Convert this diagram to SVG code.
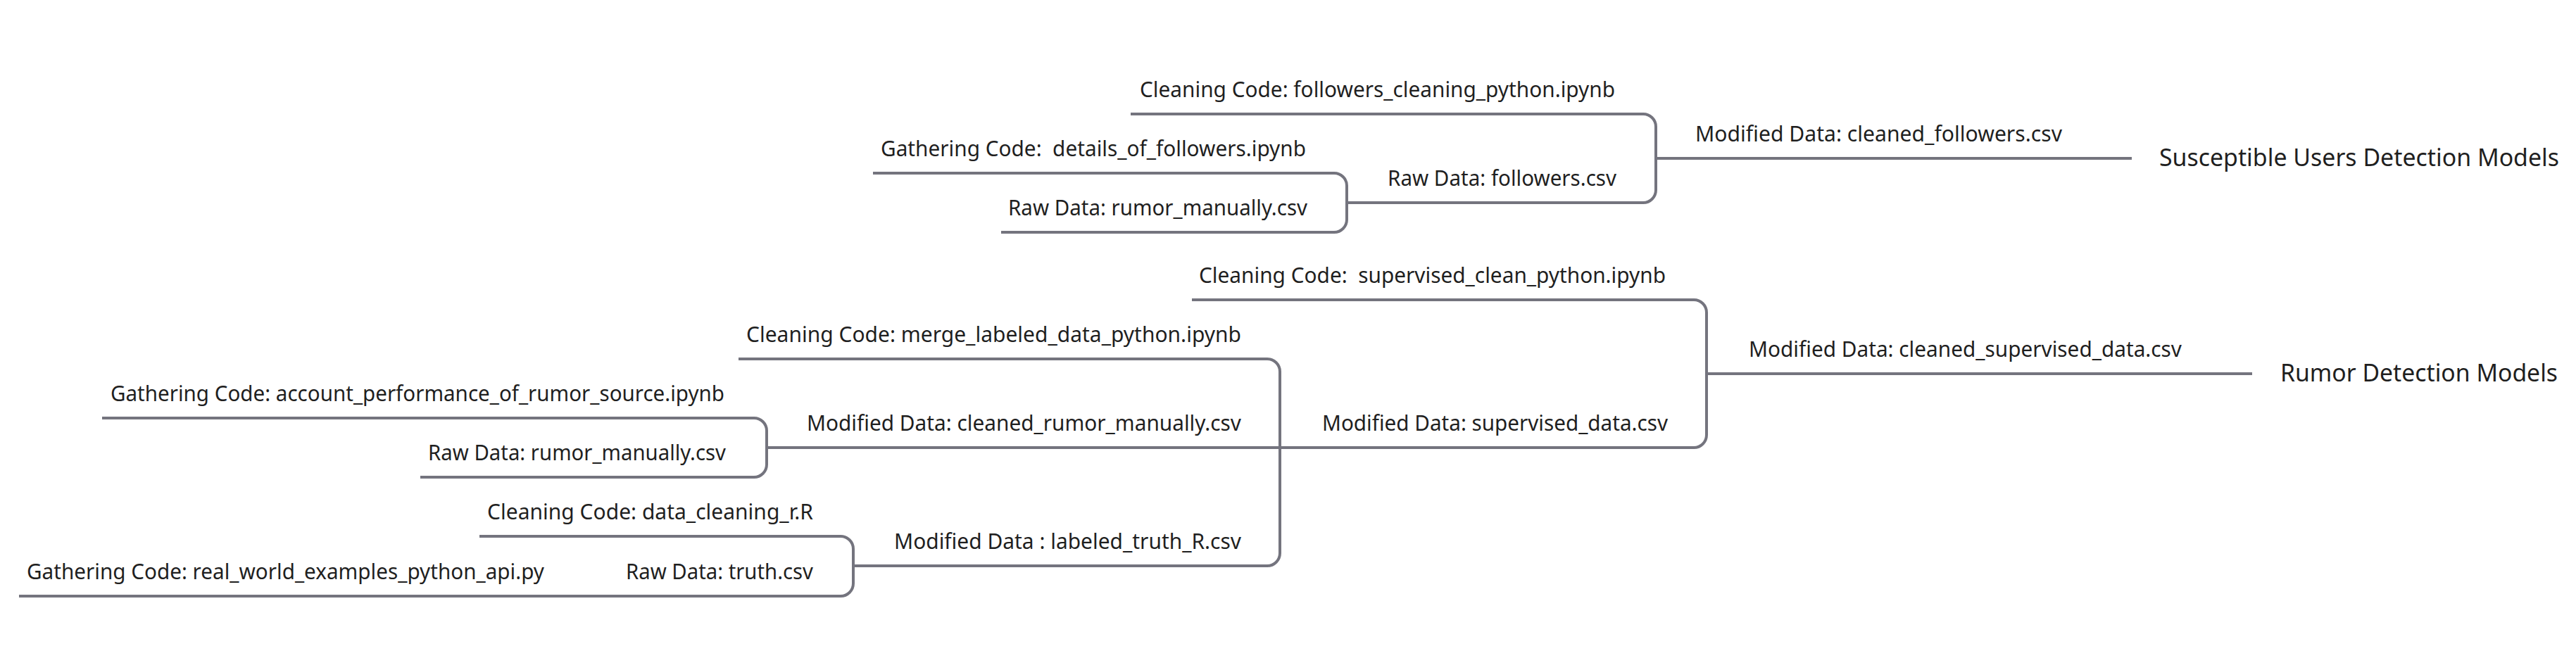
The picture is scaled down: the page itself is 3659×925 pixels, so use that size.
<svg xmlns="http://www.w3.org/2000/svg" width="3659" height="925" viewBox="0 0 3659 925">
<style>
.bg{fill:#ffffff}
.c{fill:none;stroke:#74747e;stroke-width:4;stroke-linecap:butt;stroke-linejoin:round}
.t{font-family:"Noto Sans","Open Sans","Liberation Sans",sans-serif;font-size:31px;fill:#1f1f1f;white-space:pre}
.r{font-family:"Noto Sans","Open Sans","Liberation Sans",sans-serif;font-size:34px;fill:#1f1f1f}
</style>
<rect class="bg" x="0" y="0" width="3659" height="925"/>
<g id="connectors">
<path class="c" d="M1606,162 H2334 A18,18 0 0 1 2352,180 V270 A18,18 0 0 1 2334,288 H1913"/>
<path class="c" d="M2352,225 H3028"/>
<path class="c" d="M1240,246 H1895 A18,18 0 0 1 1913,264 V312 A18,18 0 0 1 1895,330 H1422"/>
<path class="c" d="M1693,426 H2406 A18,18 0 0 1 2424,444 V618 A18,18 0 0 1 2406,636 H1818"/>
<path class="c" d="M2424,531 H3199"/>
<path class="c" d="M1049,510 H1800 A18,18 0 0 1 1818,528 V786 A18,18 0 0 1 1800,804 H1212"/>
<path class="c" d="M1089,636 H1818"/>
<path class="c" d="M145,594 H1071 A18,18 0 0 1 1089,612 V660 A18,18 0 0 1 1071,678 H597"/>
<path class="c" d="M681,762 H1194 A18,18 0 0 1 1212,780 V829 A18,18 0 0 1 1194,847 H27"/>
</g>
<g id="node-susceptible"><text class="r" x="3067" y="236" textLength="568" lengthAdjust="spacingAndGlyphs">Susceptible Users Detection Models</text></g>
<g id="node-cleaned-followers"><text class="t" x="2408" y="201" textLength="521" lengthAdjust="spacingAndGlyphs">Modified Data: cleaned_followers.csv</text></g>
<g id="node-cleaning-followers"><text class="t" x="1619" y="138" textLength="675" lengthAdjust="spacingAndGlyphs">Cleaning Code: followers_cleaning_python.ipynb</text></g>
<g id="node-raw-followers"><text class="t" x="1971" y="264" textLength="325" lengthAdjust="spacingAndGlyphs">Raw Data: followers.csv</text></g>
<g id="node-gathering-details"><text class="t" x="1251" y="222" textLength="604" lengthAdjust="spacingAndGlyphs" xml:space="preserve">Gathering Code:  details_of_followers.ipynb</text></g>
<g id="node-raw-rumor-top"><text class="t" x="1432" y="306" textLength="425" lengthAdjust="spacingAndGlyphs">Raw Data: rumor_manually.csv</text></g>
<g id="node-rumor-models"><text class="r" x="3239" y="542" textLength="394" lengthAdjust="spacingAndGlyphs">Rumor Detection Models</text></g>
<g id="node-cleaned-supervised"><text class="t" x="2484" y="507" textLength="615" lengthAdjust="spacingAndGlyphs">Modified Data: cleaned_supervised_data.csv</text></g>
<g id="node-cleaning-supervised"><text class="t" x="1703" y="402" textLength="663" lengthAdjust="spacingAndGlyphs" xml:space="preserve">Cleaning Code:  supervised_clean_python.ipynb</text></g>
<g id="node-supervised-data"><text class="t" x="1878" y="612" textLength="491" lengthAdjust="spacingAndGlyphs">Modified Data: supervised_data.csv</text></g>
<g id="node-merge"><text class="t" x="1060" y="486" textLength="703" lengthAdjust="spacingAndGlyphs">Cleaning Code: merge_labeled_data_python.ipynb</text></g>
<g id="node-cleaned-rumor"><text class="t" x="1146" y="612" textLength="617" lengthAdjust="spacingAndGlyphs">Modified Data: cleaned_rumor_manually.csv</text></g>
<g id="node-labeled-truth"><text class="t" x="1270" y="780" textLength="493" lengthAdjust="spacingAndGlyphs">Modified Data : labeled_truth_R.csv</text></g>
<g id="node-account"><text class="t" x="157" y="570" textLength="872" lengthAdjust="spacingAndGlyphs">Gathering Code: account_performance_of_rumor_source.ipynb</text></g>
<g id="node-raw-rumor-bottom"><text class="t" x="608" y="654" textLength="423" lengthAdjust="spacingAndGlyphs">Raw Data: rumor_manually.csv</text></g>
<g id="node-data-cleaning-r"><text class="t" x="692" y="738" textLength="463" lengthAdjust="spacingAndGlyphs">Cleaning Code: data_cleaning_r.R</text></g>
<g id="node-raw-truth"><text class="t" x="889" y="823" textLength="266" lengthAdjust="spacingAndGlyphs">Raw Data: truth.csv</text></g>
<g id="node-real-world"><text class="t" x="38" y="823" textLength="735" lengthAdjust="spacingAndGlyphs">Gathering Code: real_world_examples_python_api.py</text></g>
</svg>
